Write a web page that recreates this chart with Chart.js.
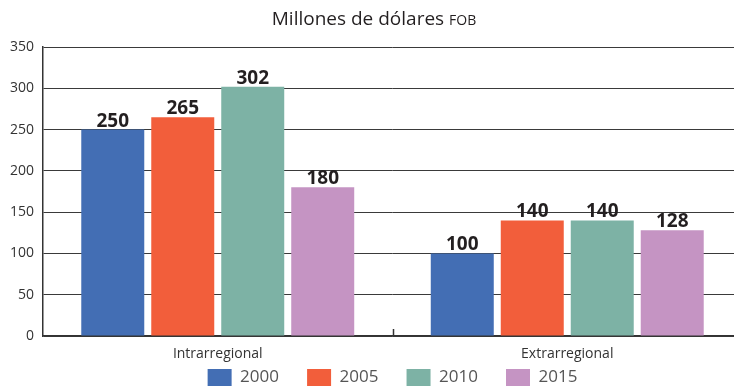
<!DOCTYPE html>
<html>
<head>
<meta charset="utf-8">
<script src="https://cdn.jsdelivr.net/npm/chart.js@4"></script>
<style>
  html, body { margin: 0; padding: 0; background: #fff; overflow: hidden; }
  #wrap { width: 742px; height: 389px; }
</style>
</head>
<body>
<div id="wrap"><canvas id="regionChart"></canvas></div>
<script>
const categories = ['Intrarregional', 'Extrarregional'];
const years = ['2000', '2005', '2010', '2015'];
const values2000 = [250, 100];
const values2005 = [265, 140];
const values2010 = [302, 140];
const values2015 = [180, 128];
const yTicks = [0, 50, 100, 150, 200, 250, 300, 350];
const colors = ['#436eb4', '#f25e3b', '#7db2a5', '#c594c3'];

const font = '"Open Sans", "Noto Sans", sans-serif';
const series = [values2000, values2005, values2010, values2015];

// title with the smaller "FOB" part
const titlePlugin = {
    id: 'titleText',
    afterDraw(chart) {
        const ctx = chart.ctx;
        const main = 'Millones de dólares ';
        const small = 'FOB';
        ctx.save();
        ctx.fillStyle = '#231f20';
        ctx.textBaseline = 'alphabetic';
        ctx.font = '19px ' + font;
        const w1 = ctx.measureText(main).width;
        ctx.font = '14px ' + font;
        const w2 = ctx.measureText(small).width;
        const x0 = 374 - (w1 + w2) / 2;
        ctx.font = '19px ' + font;
        ctx.textAlign = 'left';
        ctx.fillText(main, x0, 25);
        ctx.font = '14px ' + font;
        ctx.fillText(small, x0 + w1, 25);
        ctx.restore();
    }
};

// value labels above each bar
const valueLabels = {
    id: 'valueLabels',
    afterDatasetsDraw(chart) {
        const ctx = chart.ctx;
        ctx.save();
        ctx.font = 'bold 19px ' + font;
        ctx.fillStyle = '#231f20';
        ctx.textAlign = 'center';
        ctx.textBaseline = 'alphabetic';
        chart.data.datasets.forEach((ds, i) => {
            chart.getDatasetMeta(i).data.forEach((bar, j) => {
                ctx.fillText(ds.data[j], bar.x, bar.y - 3);
            });
        });
        ctx.restore();
    }
};

// small tick between the two groups, pointing up from the baseline
const groupTick = {
    id: 'groupTick',
    afterDraw(chart) {
        const x = chart.scales.x;
        const y = chart.scales.y;
        const px = (x.getPixelForTick(0) + x.getPixelForTick(1)) / 2;
        const base = y.getPixelForValue(0);
        const ctx = chart.ctx;
        ctx.save();
        ctx.strokeStyle = '#333';
        ctx.lineWidth = 1.5;
        ctx.beginPath();
        ctx.moveTo(Math.round(px) + 0.5, base);
        ctx.lineTo(Math.round(px) + 0.5, base - 7);
        ctx.stroke();
        ctx.restore();
    }
};

new Chart(document.getElementById('regionChart'), {
    type: 'bar',
    data: {
        labels: categories,
        datasets: years.map((yr, i) => ({
            label: yr,
            data: series[i],
            backgroundColor: colors[i],
            borderWidth: 0,
            categoryPercentage: 0.801,
            barPercentage: 0.9
        }))
    },
    options: {
        responsive: true,
        maintainAspectRatio: false,
        animation: false,
        layout: { padding: { top: 47, right: 0, left: 0, bottom: 0 } },
        plugins: {
            tooltip: { enabled: false },
            title: { display: false },
            legend: {
                position: 'bottom',
                fullSize: false,
                maxHeight: 26,
                labels: {
                    boxWidth: 24,
                    boxHeight: 17,
                    padding: 6,
                    color: '#555',
                    font: { family: font, size: 17 },
                    // widen the gap between entries without extra vertical space
                    generateLabels(chart) {
                        const items = Chart.defaults.plugins.legend.labels.generateLabels(chart);
                        items.forEach((it, i) => {
                            if (i < items.length - 1) it.text += '     ';
                        });
                        return items;
                    }
                }
            }
        },
        scales: {
            x: {
                afterFit(scale) { scale.height = 27; },
                grid: { display: false, drawTicks: false },
                border: { display: true, color: '#333', width: 1.5 },
                ticks: {
                    color: '#333',
                    padding: 10,
                    font: { family: font, size: 14 }
                }
            },
            y: {
                min: 0,
                max: 350,
                afterFit(scale) { scale.width = 43; },
                afterBuildTicks(scale) { scale.ticks = yTicks.map(v => ({ value: v })); },
                grid: { color: '#3a3a3a', lineWidth: 1, drawTicks: false },
                border: { display: true, color: '#333', width: 1.5 },
                ticks: {
                    color: '#333',
                    padding: 9,
                    font: { family: font, size: 14 }
                }
            }
        }
    },
    plugins: [titlePlugin, valueLabels, groupTick]
});
</script>
</body>
</html>
